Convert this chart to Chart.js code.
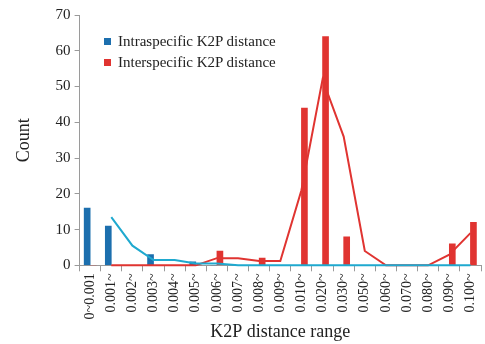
<!DOCTYPE html>
<html>
<head>
<meta charset="utf-8">
<script src="https://cdn.jsdelivr.net/npm/chart.js@4"></script>
<style>
  body { margin: 0; background: #fff; }
  #wrap { position: relative; width: 485px; height: 344px; }
  #legend { position: absolute; left: 104px; top: 31px; font-family: "Liberation Serif", serif; font-size: 15px; color: #222; line-height: 21px; }
  #legend .box { display: inline-block; width: 7px; height: 7px; margin-right: 7px; vertical-align: 1px; }
</style>
</head>
<body>
<div id="wrap">
  <canvas id="countChart" width="485" height="344"></canvas>
  <div id="legend">
    <div><span class="box" style="background:#1c6fae"></span>Intraspecific K2P distance</div>
    <div><span class="box" style="background:#e03431"></span>Interspecific K2P distance</div>
  </div>
</div>
<script>
  // K2P distance bins
  const distanceRanges = ['0~0.001', '0.001~', '0.002~', '0.003~', '0.004~', '0.005~', '0.006~', '0.007~', '0.008~', '0.009~',
    '0.010~', '0.020~', '0.030~', '0.050~', '0.060~', '0.070~', '0.080~', '0.090~', '0.100~'];

  // bar counts
  const intraCounts = [16, 11, 0, 3, 0, 1, 0, 0, 0, 0, 0, 0, 0, 0, 0, 0, 0, 0, 0];
  const interCounts = [0, 0, 0, 0, 0, 0, 4, 0, 2, 0, 44, 64, 8, 0, 0, 0, 0, 6, 12];

  // trend lines
  const intraTrend = [null, 13.5, 5.5, 1.5, 1.5, 0.5, 0.5, 0, 0, 0, 0, 0, 0, 0, 0, 0, 0, 0, 0];
  const interTrend = [null, 0, 0, 0, 0, 0, 2, 2, 1.2, 1.2, 21, 52, 36, 4, 0, 0, 0, 3, 9];

  const yTicks = [0, 10, 20, 30, 40, 50, 60, 70];

  const serif = 'Liberation Serif';
  const axisGray = '#9a9a9a';

  const ctx = document.getElementById('countChart').getContext('2d');
  new Chart(ctx, {
    type: 'bar',
    data: {
      labels: distanceRanges,
      datasets: [
        {
          type: 'line',
          label: 'Intraspecific trend',
          data: intraTrend,
          borderColor: '#1fa9cf',
          borderWidth: 2,
          pointRadius: 0,
          tension: 0,
          clip: false,
          order: 0,
        },
        {
          type: 'line',
          label: 'Interspecific trend',
          data: interTrend,
          borderColor: '#e03431',
          borderWidth: 2,
          pointRadius: 0,
          tension: 0,
          clip: false,
          order: 0,
        },
        {
          label: 'Intraspecific K2P distance',
          data: intraCounts,
          backgroundColor: '#1c6fae',
          barThickness: 6,
          order: 1,
        },
        {
          label: 'Interspecific K2P distance',
          data: interCounts,
          backgroundColor: '#e03431',
          barThickness: 6,
          order: 1,
        },
      ],
    },
    options: {
      responsive: false,
      animation: false,
      layout: {
        padding: { top: 15, right: 4, bottom: 0, left: 0 },
      },
      plugins: {
        legend: { display: false },
        tooltip: { enabled: false },
      },
      scales: {
        x: {
          afterFit: axis => {
            // let the last rotated label sit near the edge
            axis.paddingRight = 0;
          },
          grid: {
            offset: true,
            drawOnChartArea: false,
            drawTicks: true,
            tickLength: 6,
            color: axisGray,
          },
          border: { color: axisGray },
          ticks: {
            autoSkip: false,
            maxRotation: 90,
            minRotation: 90,
            padding: 2,
            color: '#222',
            font: { family: serif, size: 14 },
          },
          title: {
            display: true,
            text: 'K2P distance range',
            color: '#222',
            font: { family: serif, size: 18 },
            padding: { top: 0, bottom: 1 },
          },
        },
        y: {
          min: 0,
          max: 70,
          afterBuildTicks: axis => {
            axis.ticks = yTicks.map(v => ({ value: v }));
          },
          grid: {
            drawOnChartArea: false,
            drawTicks: true,
            tickLength: 5,
            color: axisGray,
          },
          border: { color: axisGray },
          ticks: {
            padding: 4,
            color: '#222',
            font: { family: serif, size: 15 },
          },
          title: {
            display: true,
            text: 'Count',
            color: '#222',
            font: { family: serif, size: 18 },
            padding: { top: 13, bottom: 17 },
          },
        },
      },
    },
  });
</script>
</body>
</html>
